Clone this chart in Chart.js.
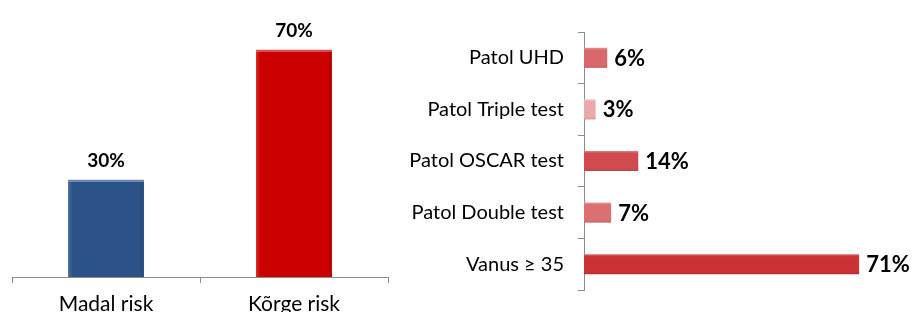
<!DOCTYPE html>
<html>
<head>
<meta charset="utf-8">
<script src="https://cdn.jsdelivr.net/npm/chart.js@4/dist/chart.umd.min.js"></script>
<style>
  html, body { margin: 0; padding: 0; background: #ffffff; }
  body { width: 918px; height: 326px; position: relative; overflow: hidden; }
  #leftWrap { position: absolute; left: 0; top: 0; width: 400px; height: 312px; overflow: hidden; }
  #rightWrap { position: absolute; left: 400px; top: 0; width: 518px; height: 326px; }
</style>
</head>
<body>
<div id="leftWrap"><canvas id="left" width="400" height="326"></canvas></div>
<div id="rightWrap"><canvas id="right" width="518" height="326"></canvas></div>
<script>
// ---- Data ----
const riskCategories = ['Madal risk', 'Kõrge risk'];
const riskValues = [30, 70];
const riskColors = ['#2B5389', '#CC0000'];

const factorCategories = ['Patol UHD', 'Patol Triple test', 'Patol OSCAR test', 'Patol Double test', 'Vanus \u2265 35'];
const factorValues = [6, 3, 14, 7, 71];
const factorColors = ['#D9686B', '#EBA9AA', '#D14A4D', '#DB6F72', '#CC3134'];

const FONT = 'Lato, "Open Sans", sans-serif';
const AXIS_GREY = '#8C8C8C';

function lighten(hex, amt) {
  const n = parseInt(hex.slice(1), 16);
  let r = (n >> 16) & 255, g = (n >> 8) & 255, b = n & 255;
  r = Math.round(r + (255 - r) * amt); g = Math.round(g + (255 - g) * amt); b = Math.round(b + (255 - b) * amt);
  return `rgb(${r},${g},${b})`;
}
function darken(hex, amt) {
  const n = parseInt(hex.slice(1), 16);
  let r = (n >> 16) & 255, g = (n >> 8) & 255, b = n & 255;
  return `rgb(${Math.round(r*(1-amt))},${Math.round(g*(1-amt))},${Math.round(b*(1-amt))})`;
}

const valueLabels = {
  id: 'valueLabels',
  afterDatasetsDraw(chart, args, opts) {
    const ctx = chart.ctx;
    const meta = chart.getDatasetMeta(0);
    const data = chart.data.datasets[0].data;
    ctx.save();
    ctx.fillStyle = '#000000';
    ctx.font = opts.font;
    meta.data.forEach((el, i) => {
      const txt = data[i] + '%';
      if (opts.horizontal) {
        ctx.textAlign = 'left';
        ctx.textBaseline = 'middle';
        ctx.fillText(txt, el.x + opts.gap, el.y + 1);
      } else {
        ctx.textAlign = 'center';
        ctx.textBaseline = 'alphabetic';
        ctx.fillText(txt, el.x, el.y - opts.gap);
      }
    });
    ctx.restore();
  }
};

// ---- Left chart ----
new Chart(document.getElementById('left'), {
  type: 'bar',
  data: {
    labels: riskCategories,
    datasets: [{
      data: riskValues,
      backgroundColor: (c) => {
        const base = riskColors[c.dataIndex];
        const xs = c.chart.scales.x;
        if (!xs) return base;
        const cx = xs.getPixelForValue(c.dataIndex);
        if (!isFinite(cx)) return base;
        const g = c.chart.ctx.createLinearGradient(cx - 38, 0, cx + 38, 0);
        g.addColorStop(0, lighten(base, 0.15));
        g.addColorStop(0.06, base);
        g.addColorStop(0.94, base);
        g.addColorStop(1, darken(base, 0.15));
        return g;
      },
      borderColor: (c) => lighten(riskColors[c.dataIndex], 0.3),
      borderWidth: { top: 2, left: 0, right: 0, bottom: 0 },
      borderSkipped: 'bottom',
      categoryPercentage: 1.0,
      barPercentage: 0.404
    }]
  },
  options: {
    responsive: false,
    animation: false,
    events: [],
    layout: { padding: { left: 12, right: 12, top: 17, bottom: 0 } },
    plugins: {
      legend: { display: false },
      tooltip: { enabled: false },
      valueLabels: { font: 'bold 19px ' + FONT, gap: 13, horizontal: false }
    },
    scales: {
      x: {
        grid: { display: true, drawOnChartArea: false, drawTicks: true, tickLength: 6, color: AXIS_GREY, offset: true },
        border: { display: true, color: AXIS_GREY, width: 1 },
        ticks: { color: '#000000', font: { family: FONT, size: 21 }, padding: 9 },
        afterFit: (s) => { s.height = 49; }
      },
      y: { display: false, min: 0, max: 80 }
    }
  },
  plugins: [valueLabels]
});

// ---- Right chart ----
new Chart(document.getElementById('right'), {
  type: 'bar',
  data: {
    labels: factorCategories,
    datasets: [{
      data: factorValues,
      backgroundColor: (c) => {
        const base = factorColors[c.dataIndex];
        const ys = c.chart.scales.y;
        if (!ys) return base;
        const cy = ys.getPixelForValue(c.dataIndex);
        if (!isFinite(cy)) return base;
        const g = c.chart.ctx.createLinearGradient(0, cy - 10, 0, cy + 10);
        g.addColorStop(0, lighten(base, 0.3));
        g.addColorStop(0.12, base);
        g.addColorStop(0.88, base);
        g.addColorStop(1, darken(base, 0.1));
        return g;
      },
      borderWidth: 0,
      categoryPercentage: 1.0,
      barPercentage: 0.39
    }]
  },
  options: {
    indexAxis: 'y',
    responsive: false,
    animation: false,
    events: [],
    layout: { padding: { left: 0, right: 24, top: 32, bottom: 36 } },
    plugins: {
      legend: { display: false },
      tooltip: { enabled: false },
      valueLabels: { font: 'bold 22px ' + FONT, gap: 7, horizontal: true }
    },
    scales: {
      x: { display: false, min: 0, max: 80 },
      y: {
        grid: { display: true, drawOnChartArea: false, drawTicks: true, tickLength: 6, color: AXIS_GREY, offset: true },
        border: { display: true, color: AXIS_GREY, width: 1 },
        ticks: { color: '#000000', font: { family: FONT, size: 20 }, padding: 14 },
        afterFit: (s) => { s.width = 184; }
      }
    }
  },
  plugins: [valueLabels]
});
</script>
</body>
</html>
